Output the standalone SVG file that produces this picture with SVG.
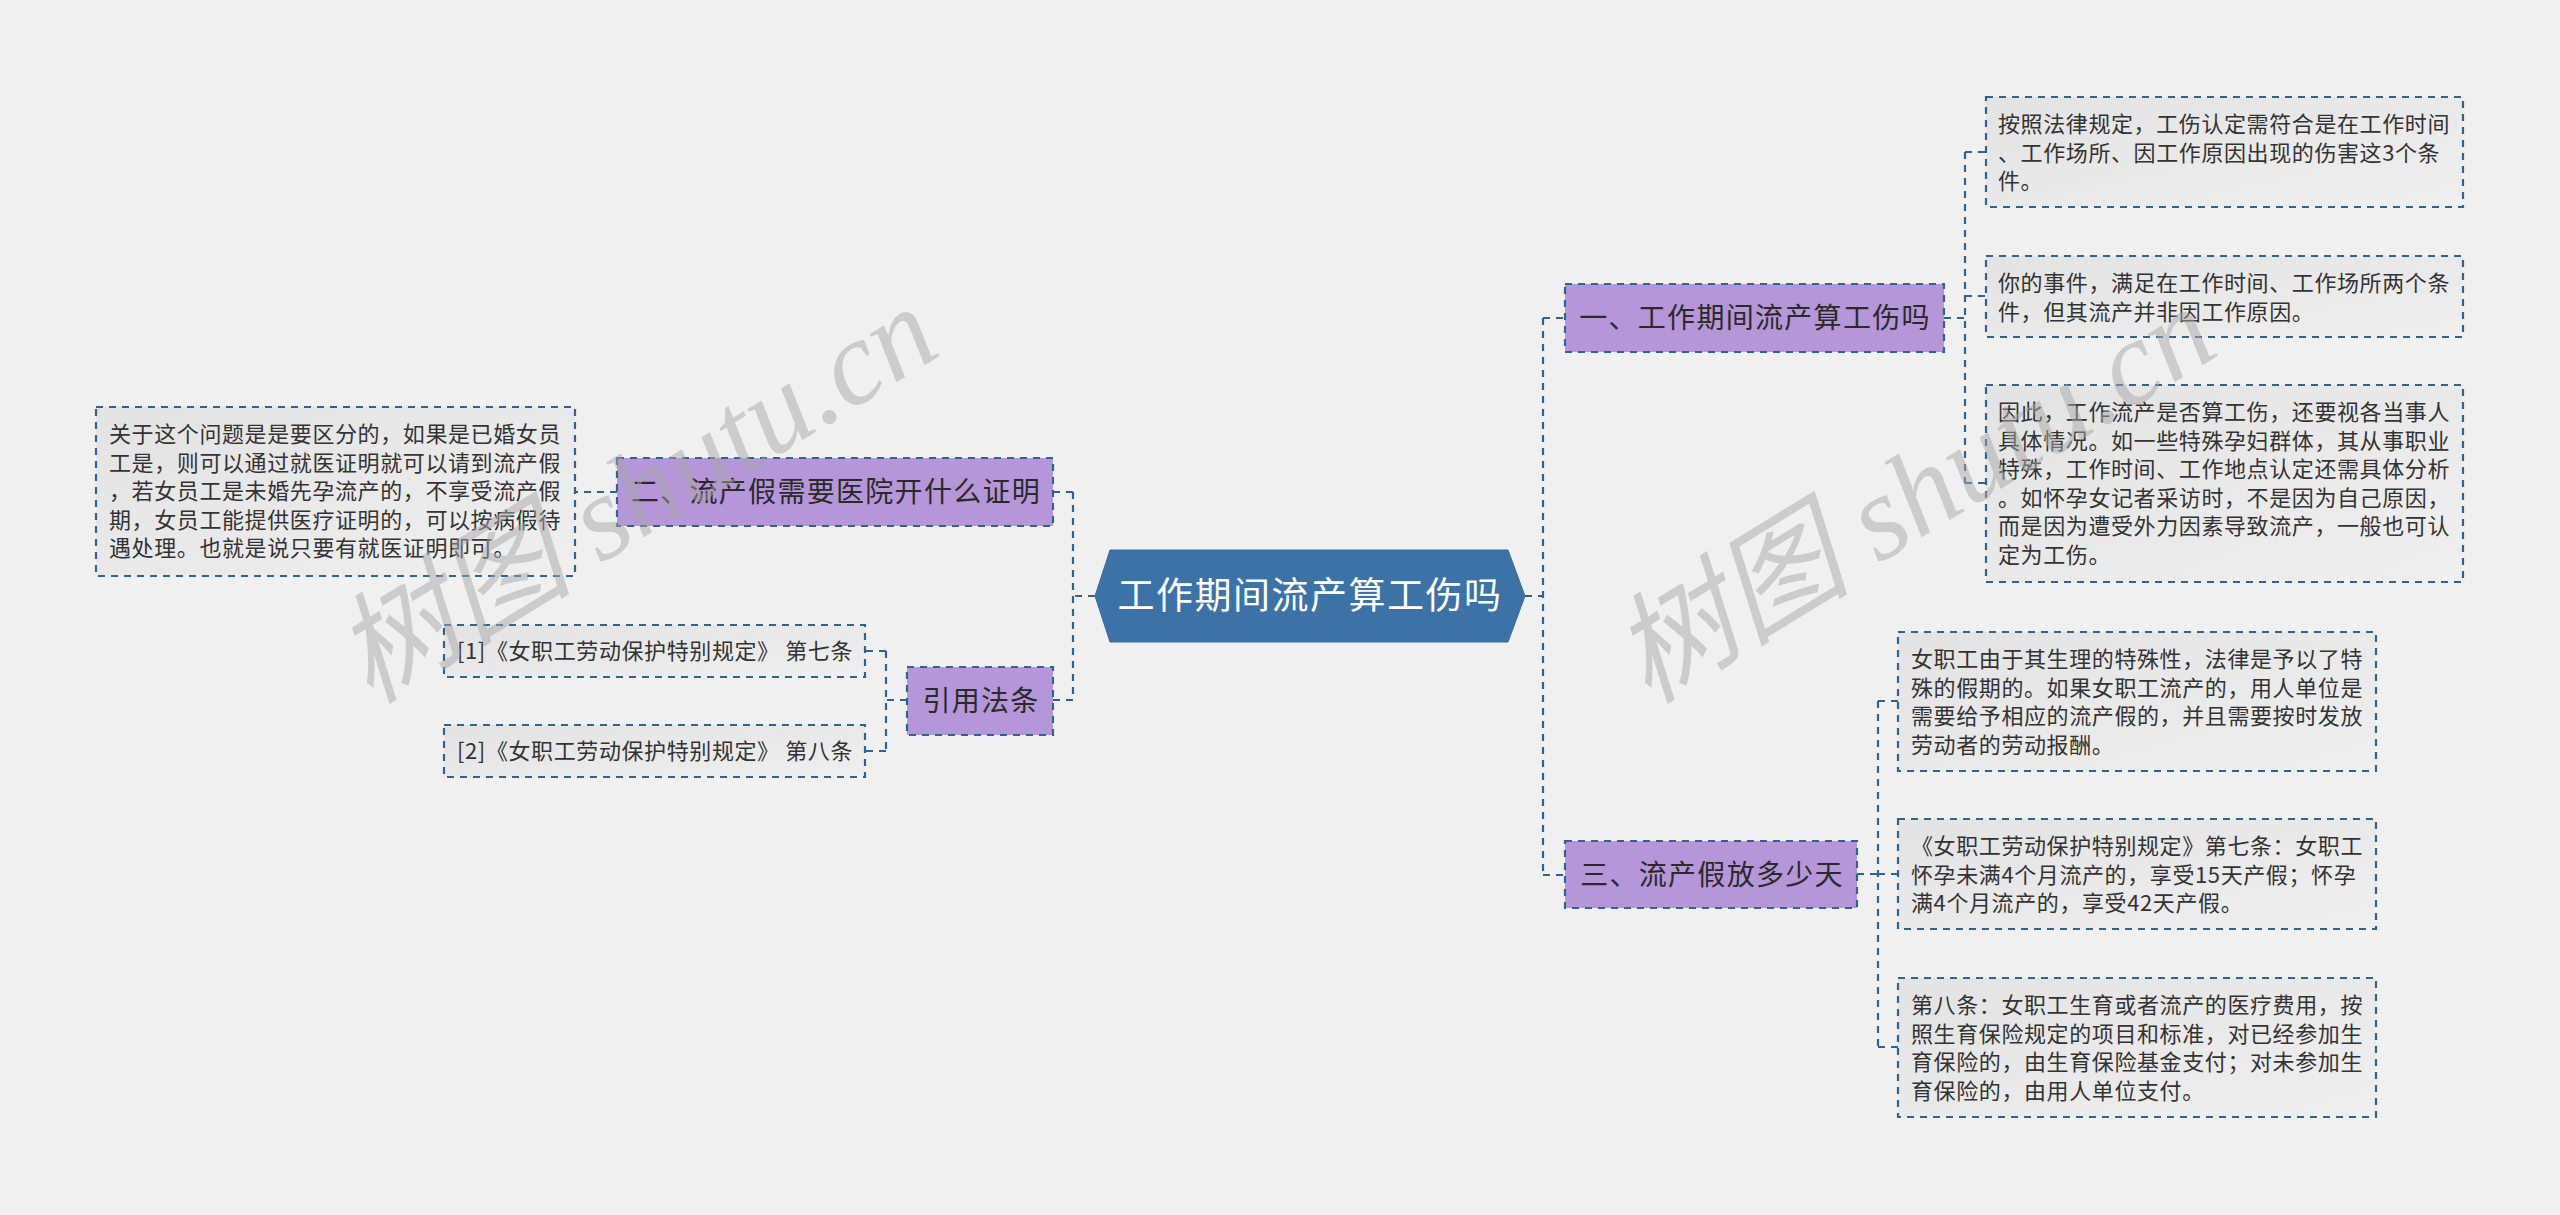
<svg xmlns="http://www.w3.org/2000/svg" width="2560" height="1215" viewBox="0 0 2560 1215">
<defs>
<linearGradient id="leafg" x1="0" y1="0" x2="1" y2="1">
<stop offset="0" stop-color="#e3e3e3"/>
<stop offset="1" stop-color="#efefef"/>
</linearGradient>
<style>
.bg{fill:#f0f0f0}
.conn{fill:none;stroke:#2f6391;stroke-width:2.2;stroke-dasharray:7 6}
.root{fill:#3d72a6;stroke:#3a6c9d;stroke-width:1}
.roott{font-family:"Noto Sans CJK SC","Noto Sans",sans-serif;font-size:37px;fill:#ffffff;text-anchor:middle;letter-spacing:1.5px}
.br{fill:#b596d9;stroke:#2f6391;stroke-width:2.2;stroke-dasharray:7 6}
.brt{font-family:"Noto Sans CJK SC","Noto Sans",sans-serif;font-size:28px;fill:#2a2a2a;text-anchor:middle;letter-spacing:1.3px}
.leaf{fill:url(#leafg);stroke:#2f6391;stroke-width:2.2;stroke-dasharray:7 6}
.lt{font-family:"Noto Sans CJK SC","Noto Sans",sans-serif;font-size:22px;fill:#333333;letter-spacing:0.6px}
.wm{font-family:"Liberation Serif","Noto Sans CJK SC",serif;font-size:120px;font-style:italic;fill:#a8a8a8;fill-opacity:0.5}
</style>
</defs>
<rect class="bg" x="0" y="0" width="2560" height="1215"/>

<g id="connectors">
<path class="conn" d="M1525,596 H1543 M1543,318 V875 M1543,318 H1565 M1543,875 H1565"/>
<path class="conn" d="M1944,318 H1965 M1965,152 V483 M1965,152 H1986 M1965,296 H1986 M1965,483 H1986"/>
<path class="conn" d="M1857,874 H1878 M1878,701 V1047 M1878,701 H1898 M1878,874 H1898 M1878,1047 H1898"/>
<path class="conn" d="M1095,596 H1073 M1073,492 V700 M1073,492 H1053 M1073,700 H1053"/>
<path class="conn" d="M617,492 H575"/>
<path class="conn" d="M907,700 H886 M886,651 V751 M886,651 H865 M886,751 H865"/>
</g>

<g id="root">
<polygon class="root" points="1095,596 1110,550 1508,550 1525,596 1508,642 1110,642"/>
<text class="roott" x="1310" y="609">工作期间流产算工伤吗</text>
</g>

<g id="branch1">
<rect class="br" x="1565" y="284" width="379" height="68"/>
<text class="brt" x="1755" y="328">一、工作期间流产算工伤吗</text>
</g>

<g id="leaf1-1">
<rect class="leaf" x="1986" y="97" width="477" height="110"/>
<text class="lt"><tspan x="1998" y="132">按照法律规定，工伤认定需符合是在工作时间</tspan><tspan x="1998" y="160.5">、工作场所、因工作原因出现的伤害这3个条</tspan><tspan x="1998" y="189">件。</tspan></text>
</g>

<g id="leaf1-2">
<rect class="leaf" x="1986" y="256" width="477" height="81"/>
<text class="lt"><tspan x="1998" y="291">你的事件，满足在工作时间、工作场所两个条</tspan><tspan x="1998" y="319.5">件，但其流产并非因工作原因。</tspan></text>
</g>

<g id="leaf1-3">
<rect class="leaf" x="1986" y="385" width="477" height="197"/>
<text class="lt"><tspan x="1998" y="420">因此，工作流产是否算工伤，还要视各当事人</tspan><tspan x="1998" y="448.5">具体情况。如一些特殊孕妇群体，其从事职业</tspan><tspan x="1998" y="477">特殊，工作时间、工作地点认定还需具体分析</tspan><tspan x="1998" y="505.5">。如怀孕女记者采访时，不是因为自己原因，</tspan><tspan x="1998" y="534">而是因为遭受外力因素导致流产，一般也可认</tspan><tspan x="1998" y="562.5">定为工伤。</tspan></text>
</g>

<g id="branch3">
<rect class="br" x="1565" y="841" width="292" height="67"/>
<text class="brt" x="1712" y="885">三、流产假放多少天</text>
</g>

<g id="leaf3-1">
<rect class="leaf" x="1898" y="632" width="478" height="139"/>
<text class="lt"><tspan x="1911" y="667">女职工由于其生理的特殊性，法律是予以了特</tspan><tspan x="1911" y="695.5">殊的假期的。如果女职工流产的，用人单位是</tspan><tspan x="1911" y="724">需要给予相应的流产假的，并且需要按时发放</tspan><tspan x="1911" y="752.5">劳动者的劳动报酬。</tspan></text>
</g>

<g id="leaf3-2">
<rect class="leaf" x="1898" y="819" width="478" height="110"/>
<text class="lt"><tspan x="1911" y="854">《女职工劳动保护特别规定》第七条：女职工</tspan><tspan x="1911" y="882.5">怀孕未满4个月流产的，享受15天产假；怀孕</tspan><tspan x="1911" y="911">满4个月流产的，享受42天产假。</tspan></text>
</g>

<g id="leaf3-3">
<rect class="leaf" x="1898" y="978" width="478" height="139"/>
<text class="lt"><tspan x="1911" y="1013">第八条：女职工生育或者流产的医疗费用，按</tspan><tspan x="1911" y="1041.5">照生育保险规定的项目和标准，对已经参加生</tspan><tspan x="1911" y="1070">育保险的，由生育保险基金支付；对未参加生</tspan><tspan x="1911" y="1098.5">育保险的，由用人单位支付。</tspan></text>
</g>

<g id="branch2">
<rect class="br" x="617" y="458" width="436" height="68"/>
<text class="brt" x="836" y="502">二、流产假需要医院开什么证明</text>
</g>

<g id="leaf2-1">
<rect class="leaf" x="96" y="407" width="479" height="169"/>
<text class="lt"><tspan x="109" y="442">关于这个问题是是要区分的，如果是已婚女员</tspan><tspan x="109" y="470.5">工是，则可以通过就医证明就可以请到流产假</tspan><tspan x="109" y="499">，若女员工是未婚先孕流产的，不享受流产假</tspan><tspan x="109" y="527.5">期，女员工能提供医疗证明的，可以按病假待</tspan><tspan x="109" y="556">遇处理。也就是说只要有就医证明即可。</tspan></text>
</g>

<g id="refs">
<rect class="br" x="907" y="667" width="146" height="68"/>
<text class="brt" x="981" y="711">引用法条</text>
</g>

<g id="ref1">
<rect class="leaf" x="444" y="625" width="421" height="52"/>
<text class="lt" x="457" y="659">[1]《女职工劳动保护特别规定》 第七条</text>
</g>

<g id="ref2">
<rect class="leaf" x="444" y="725" width="421" height="52"/>
<text class="lt" x="457" y="759">[2]《女职工劳动保护特别规定》 第八条</text>
</g>

<g id="watermarks">
<text class="wm" transform="translate(370,705) rotate(-31.5)">树图 shutu.cn</text>
<text class="wm" transform="translate(1648,705) rotate(-31.5)">树图 shutu.cn</text>
</g>
</svg>
